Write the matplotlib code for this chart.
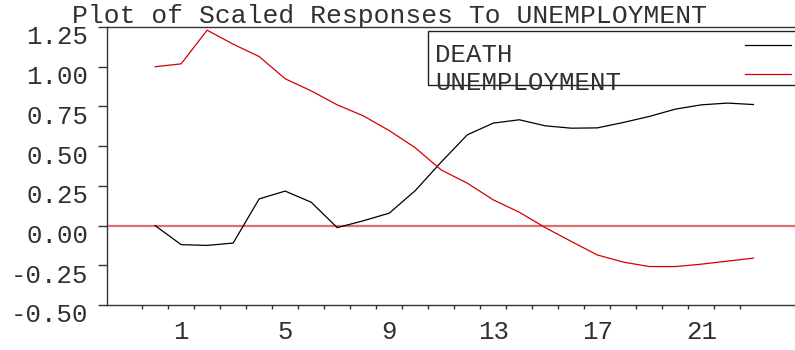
import matplotlib
matplotlib.use("Agg")
import matplotlib.pyplot as plt
from matplotlib.transforms import ScaledTranslation
from matplotlib.lines import Line2D
from matplotlib.patches import Rectangle

plt.rcParams['font.family'] = ['Liberation Mono', 'DejaVu Sans Mono']
plt.rcParams['axes.unicode_minus'] = False

title = "Plot of Scaled Responses To UNEMPLOYMENT"
steps = list(range(24))
death = [0.00, -0.12, -0.125, -0.11, 0.168, 0.217, 0.147, -0.013, 0.03, 0.078,
         0.22, 0.40, 0.571, 0.645, 0.666, 0.628, 0.613, 0.615, 0.649, 0.687,
         0.733, 0.760, 0.771, 0.762]
unemployment = [1.00, 1.018, 1.23, 1.142, 1.064, 0.924, 0.848, 0.76, 0.691, 0.598,
                0.49, 0.35, 0.267, 0.162, 0.084, -0.013, -0.10, -0.185, -0.23, -0.258,
                -0.258, -0.243, -0.224, -0.205]
series_names = ["DEATH", "UNEMPLOYMENT"]
series_colors = ["black", "#d40000"]
y_ticks = [-0.50, -0.25, 0.00, 0.25, 0.50, 0.75, 1.00, 1.25]
x_labels = [1, 5, 9, 13, 17, 21]

W, H = 795, 350
fig = plt.figure(figsize=(W / 100, H / 100), dpi=100)
ax = fig.add_axes([107 / W, 45 / H, 1 - 107 / W, 278 / H])

txt = '#303030'
fs = 18.5

ax.axhline(0, color='#e07070', linewidth=1.6, zorder=1)
ax.plot(steps, death, color=series_colors[0], linewidth=0.9, zorder=2)
ax.plot(steps, unemployment, color=series_colors[1], linewidth=0.9, zorder=2)

ax.set_xlim(-1.85, 24.6)
ax.set_ylim(-0.5, 1.25)

ax.spines['right'].set_visible(False)
for s in ['left', 'bottom', 'top']:
    ax.spines[s].set_color('#333333')
    ax.spines[s].set_linewidth(1.0)

ax.set_yticks(y_ticks)
ax.set_yticklabels([f"{v:.2f}" for v in y_ticks], fontsize=fs, color=txt)
ax.tick_params(axis='y', direction='out', length=6.5, width=1.0, color='#333333', pad=7)
off = ScaledTranslation(0, -8 / 100, fig.dpi_scale_trans)
for lab in ax.get_yticklabels():
    lab.set_transform(lab.get_transform() + off)

ax.set_xticks(x_labels)
ax.set_xticklabels([str(v) for v in x_labels], fontsize=fs, color=txt)
ax.set_xticks([i - 0.5 for i in range(24)], minor=True)
ax.tick_params(axis='x', which='major', length=0, pad=11)
ax.tick_params(axis='x', which='minor', direction='out', length=3, width=1.0, color='#333333')

fig.text(390 / W, 1 - 23 / H, title, ha='center', va='baseline', fontsize=19, color=txt)

# legend drawn by hand: box runs off the right edge, last label overflows box
fig.patches.append(Rectangle((428 / W, 1 - 85 / H), (W + 20 - 428) / W, (85 - 30.7) / H,
                             transform=fig.transFigure, fill=False, edgecolor='#222222',
                             linewidth=1.0, clip_on=False))
fig.text(435 / W, 1 - 62.5 / H, series_names[0], ha='left', va='baseline', fontsize=fs, color=txt)
fig.text(435 / W, 1 - 90.5 / H, series_names[1], ha='left', va='baseline', fontsize=fs, color=txt)
for yy, c in zip([45, 74], series_colors):
    fig.lines.append(Line2D([745 / W, 791 / W], [1 - yy / H, 1 - yy / H],
                            transform=fig.transFigure, color=c, linewidth=0.9))

fig.savefig("out.png", dpi=100)
